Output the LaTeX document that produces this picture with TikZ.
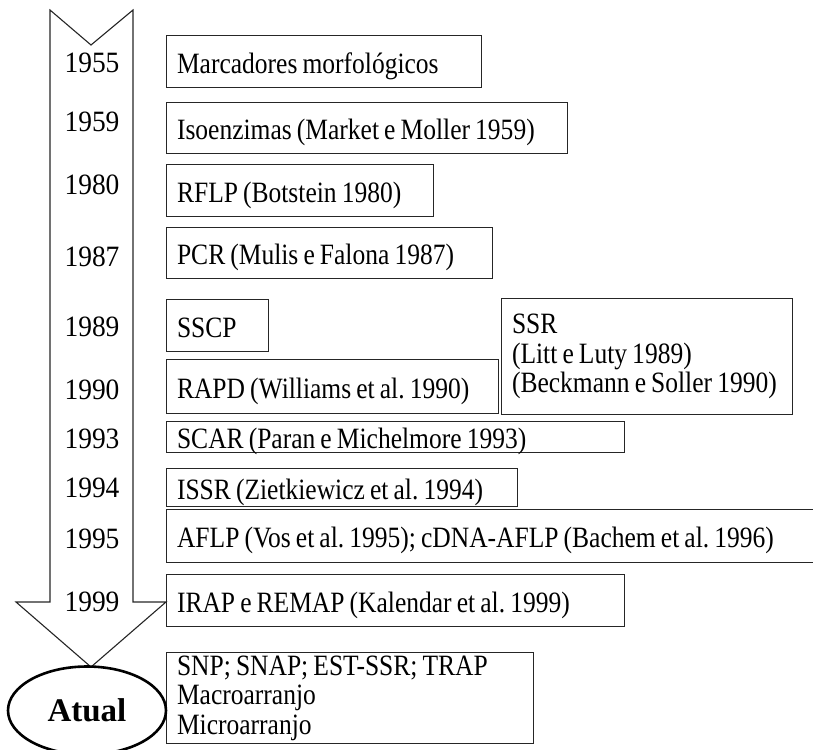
\documentclass[tikz,border=0pt]{standalone}
\usepackage{fontspec}
\setmainfont{Liberation Serif}
\newfontfamily\boxfont[FakeStretch=0.865, WordSpace=0.8]{Liberation Serif}
\newfontfamily\yrfont[FakeStretch=0.93]{Liberation Serif}
\usetikzlibrary{shapes.geometric}
\begin{document}
\begin{tikzpicture}[x=1pt,y=-1pt,
  base/.style={draw=black!85, line width=1.1pt, anchor=north west, inner xsep=10.5pt, inner ysep=0pt, align=flush left, font=\boxfont\fontsize{29.5}{29.5}\selectfont\frenchspacing},
  sbox/.style={base, text height=23pt, text depth=0pt},
  yr/.style={font=\yrfont\fontsize{29.5}{33}\selectfont, inner sep=0pt},
  arr/.style={draw=black!85, line width=1.1pt, line join=miter}]
\clip (0,0) rectangle (813,749);
% big arrow
\draw[arr] (50,10) -- (91,45) -- (133,10) -- (133,602) -- (166,602) -- (91,667) -- (16,602) -- (50,602) -- cycle;
% years
\node[yr] (y1955) at (92,63) {1955};
\node[yr] (y1959) at (92,122) {1959};
\node[yr] (y1980) at (92,185) {1980};
\node[yr] (y1987) at (92,257) {1987};
\node[yr] (y1989) at (92,327) {1989};
\node[yr] (y1990) at (92,390) {1990};
\node[yr] (y1993) at (92,439) {1993};
\node[yr] (y1994) at (92,488) {1994};
\node[yr] (y1995) at (92,539) {1995};
\node[yr] (y1999) at (92,602) {1999};
% boxes
\node[sbox, minimum height=52pt, text width=294pt] (marc) at (166,35) {Marcadores morfológicos};
\node[sbox, minimum height=51pt, text width=380pt] (iso) at (166,102) {Isoenzimas (Market e Moller 1959)};
\node[sbox, minimum height=52pt, text width=246pt] (rflp) at (166,164) {RFLP (Botstein 1980)};
\node[sbox, minimum height=51pt, text width=305pt] (pcr) at (166,227) {PCR (Mulis e Falona 1987)};
\node[sbox, minimum height=52pt, text width=81pt] (sscp) at (166,299) {SSCP};
\node[sbox, minimum height=54pt, text width=311pt] (rapd) at (166,359) {RAPD (Williams et al. 1990)};
\node[base, minimum height=116pt, text width=270pt] (ssr) at (501,298) {SSR\\(Litt e Luty 1989)\\(Beckmann e Soller 1990)};
\node[sbox, minimum height=31pt, text width=437pt] (scar) at (166,421) {SCAR (Paran e Michelmore 1993)};
\node[sbox, minimum height=38pt, text width=330pt] (issr) at (166,468) {ISSR (Zietkiewicz et al. 1994)};
\node[sbox, minimum height=53pt, text width=639pt] (aflp) at (166,509) {AFLP (Vos et al. 1995); cDNA-AFLP (Bachem et al. 1996)};
\node[sbox, minimum height=52pt, text width=437pt] (irap) at (166,574) {IRAP e REMAP (Kalendar et al. 1999)};
\node[base, minimum height=91pt, text width=346pt] (snp) at (166,652) {SNP; SNAP; EST-SSR; TRAP\\Macroarranjo\\Microarranjo};
% ellipse
\node[ellipse, draw=black, line width=2.6pt, minimum width=158pt, minimum height=88pt, inner sep=0pt, font=\bfseries\fontsize{33}{40}\selectfont] (atual) at (87,710.5) {Atual};
\end{tikzpicture}
\end{document}
